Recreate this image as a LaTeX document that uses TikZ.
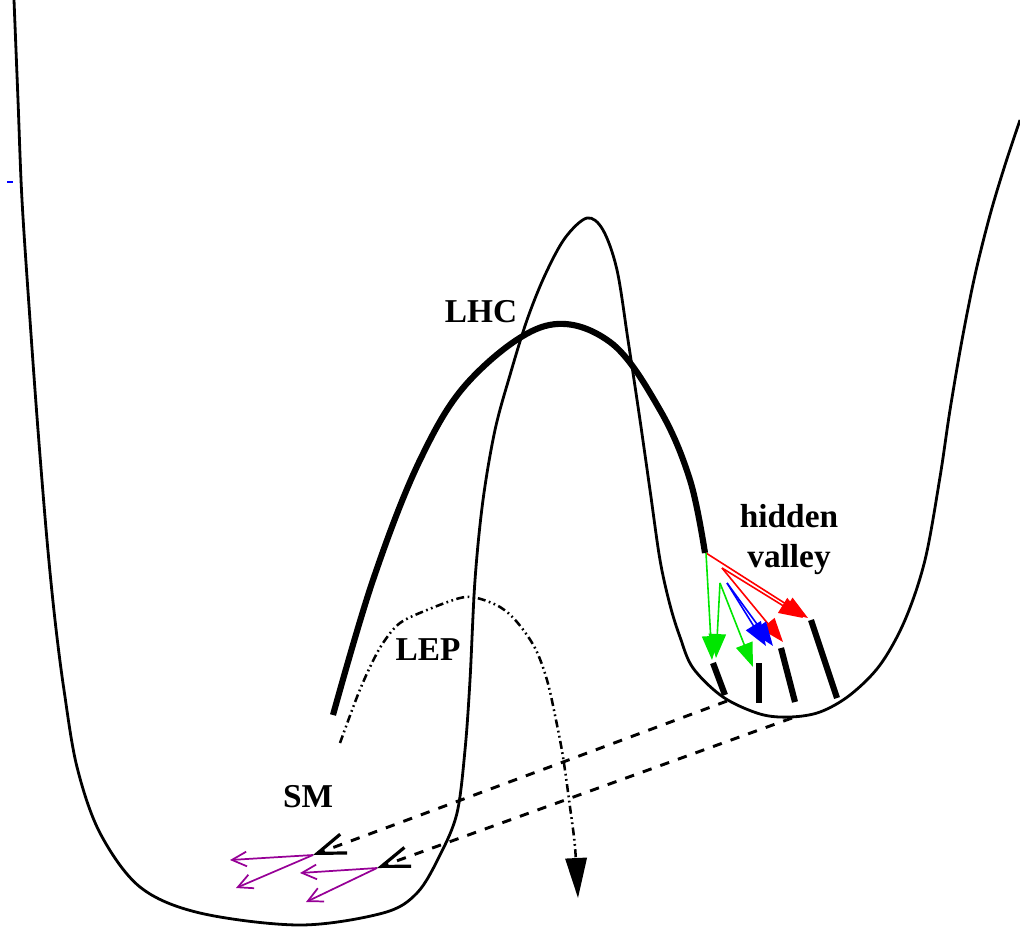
\documentclass[tikz,border=0pt]{standalone}
\usepackage{fontspec}
\setmainfont{Liberation Serif}
\usetikzlibrary{arrows.meta}
\definecolor{hvred}{RGB}{255,0,0}
\definecolor{hvgreen}{RGB}{0,230,0}
\definecolor{hvblue}{RGB}{0,0,255}
\definecolor{smpurple}{RGB}{150,0,150}
\tikzset{
  pot/.style={line width=2.1pt, line join=round},
  lhc/.style={line width=4.6pt},
  lep/.style={line width=1.9pt, dash pattern=on 6pt off 2.6pt on 1.3pt off 2.6pt on 1.3pt off 2.6pt},
  link/.style={line width=2.2pt, dash pattern=on 7pt off 7pt, -{Straight Barb[length=21pt,width=15pt,line width=2.4pt]}},
  lbl/.style={font=\bfseries\fontsize{25}{28}\selectfont, inner sep=0pt},
  hvarrow/.style={line width=1.2pt, -{Triangle[length=18pt,width=13pt]}},
  smarrow/.style={line width=1.3pt, color=smpurple, -{Straight Barb[length=11pt,width=11pt,line width=1.3pt]}},
  jet/.style={line width=4.6pt}
}
\begin{document}
\begin{tikzpicture}[x=0.75pt,y=-0.75pt]
\useasboundingbox (0,0) rectangle (1020,929);

% potential curve
\draw[pot] plot[smooth, tension=0.55] coordinates {
 (14,0) (18,100) (22,200) (30,320) (38,430) (47,540) (55,620) (64,690)
 (77,767) (100,833) (140,887) (200,913) (300,925) (383,913) (417,893)
 (440,855) (457,813) (465,750) (470,680) (475,580) (483,500) (495,430)
 (510,375) (527,320) (545,275) (565,238) (587,218) (603,230)
 (617,270) (628,340) (640,420) (650,490) (660,560) (670,605) (680,637)
 (693,668) (723,697) (760,714) (790,717) (820,712) (850,695) (880,665)
 (905,620) (925,560) (940,477) (950,410) (962,340) (975,275) (990,215) (1005,165) (1020,120)};

% small blue tick
\draw[hvblue, line width=1.5pt] (7,182) -- (13,182);

% LHC trajectory
\draw[lhc] plot[smooth, tension=0.6] coordinates {
 (333,715) (373,580) (420,460) (470,380) (545,326) (610,342) (660,410) (690,480) (705,553)};

% LEP trajectory
\draw[lep, -{Triangle[length=30pt,width=16pt]}] plot[smooth, tension=0.55] coordinates {
 (340,743) (357,697) (370,667) (383,643) (400,623) (427,610) (460,598)
 (477,598) (500,607) (517,622) (535,648) (547,680) (556,720) (563,757)
 (570,807) (575,847) (578,898)};

% labels
\node[lbl] (lhc) at (481,312) {LHC};
\node[lbl] (lep) at (428,650) {LEP};
\node[lbl] (sm) at (308,797) {SM};
\node[lbl, align=center, font=\bfseries\fontsize{25}{30}\selectfont] (hv) at (789,540) {hidden\\valley};

% hidden valley cascade
\coordinate (o) at (706,553);
\coordinate (o2) at (722,568);
\coordinate (g2) at (720,583);
\coordinate (b1) at (727,583);
\draw[hvarrow, hvred] (o) -- (808,618);
\draw[hvarrow, hvred] (o2) -- (803,618);
\draw[hvarrow, hvred] (o2) -- (783,642);
\draw[hvarrow, hvblue] (b1) -- (766,646);
\draw[hvarrow, hvblue] (b1) -- (773,646);
\draw[hvarrow, hvgreen] (o) -- (712,660);
\draw[hvarrow, hvgreen] (g2) -- (716,658);
\draw[hvarrow, hvgreen] (g2) -- (753,667);

% final jets in hidden valley
\draw[jet] (713,663) -- (725,695);
\draw[jet] (759,663) -- (759,703);
\draw[jet] (781,648) -- (795,702);
\draw[jet] (811,620) -- (837,698);

% links back to SM
\coordinate (s1) at (727,701);
\coordinate (s2) at (792,718);
\coordinate (v1) at (313,855);
\coordinate (v2) at (377,868);
\draw[link] (s1) -- (v1);
\draw[link] (s2) -- (v2);

% SM decay products
\draw[smarrow] (v1) -- (230,860);
\draw[smarrow] (v1) -- (236,888);
\draw[smarrow] (v2) -- (300,873);
\draw[smarrow] (v2) -- (306,902);
\end{tikzpicture}
\end{document}
